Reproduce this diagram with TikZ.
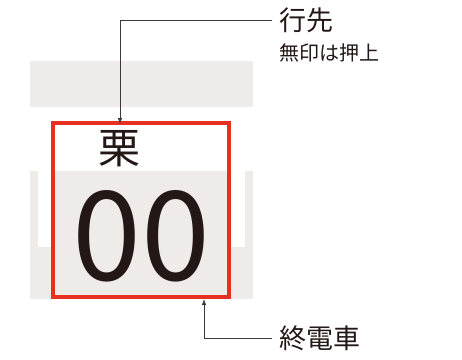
\documentclass[tikz,border=0pt]{standalone}
\usepackage{fontspec}
\newfontfamily\jpfont{Noto Sans CJK JP}
\usetikzlibrary{arrows.meta}
\definecolor{signred}{HTML}{E83020}
\definecolor{paneltone}{HTML}{EFEBE8}
\definecolor{inkdark}{HTML}{231815}
\definecolor{leadgray}{HTML}{3A3A3A}

\begin{document}
\begin{tikzpicture}[x=1pt, y=-1pt,
        lbl/.style={anchor=west, inner sep=0pt, text=inkdark},
        lead/.style={draw=leadgray, line width=0.8pt, -{Latex[length=6pt,width=4.5pt]}}]
    \useasboundingbox (0,0) rectangle (462,359);

    % background panels
    \fill[paneltone] (30,61) rectangle (253,107);
    \fill[paneltone] (30,171) rectangle (253,299);
    \fill[white] (38,171) rectangle (245,247);
    \fill[paneltone] (53,171) rectangle (229,297);

    % sign plate
    \node[draw=signred, line width=3.8pt, minimum width=176pt, minimum height=174pt, inner sep=0pt] (plate) at (141,210) {};
    \node[text=inkdark, inner sep=0pt, font=\jpfont\fontsize{42}{42}\selectfont] (dest) at (119,149) {栗};
    \node[text=inkdark, inner sep=0pt, font=\jpfont\fontsize{124}{124}\selectfont] (num) at (141,236) {00};

    % labels
    \node[lbl, font=\jpfont\fontsize{27}{27}\selectfont] (lblDest) at (279,20) {行先};
    \node[lbl, font=\jpfont\fontsize{20}{20}\selectfont] (lblNote) at (279,53) {無印は押上};
    \node[lbl, font=\jpfont\fontsize{27}{27}\selectfont] (lblLast) at (279,338) {終電車};

    % leaders
    \coordinate (destTip) at (120,124);
    \coordinate (lastTip) at (204,299);
    \draw[lead] ([xshift=-7pt]lblDest.west) -| (destTip);
    \draw[lead] ([xshift=-7pt]lblLast.west) -| (lastTip);
\end{tikzpicture}
\end{document}
